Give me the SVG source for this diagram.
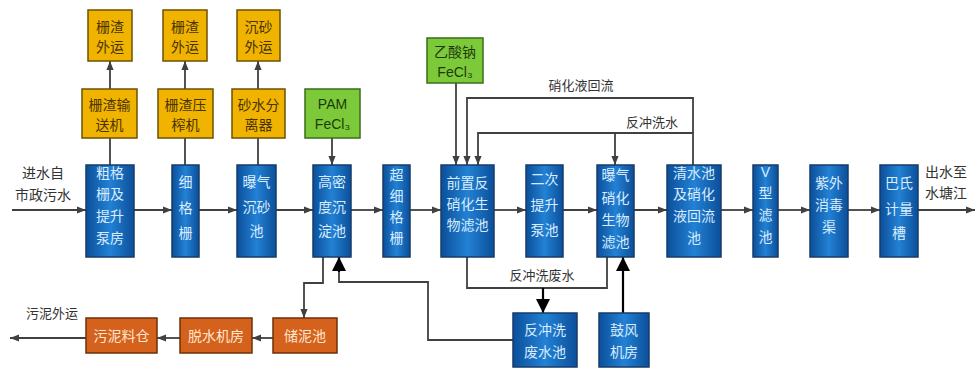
<svg xmlns="http://www.w3.org/2000/svg" width="977" height="372" viewBox="0 0 977 372">
<defs>
<linearGradient id="gb" x1="0" y1="0" x2="1" y2="0">
<stop offset="0" stop-color="#0b4f9a"/><stop offset="0.5" stop-color="#2381d4"/><stop offset="1" stop-color="#0b4f9a"/>
</linearGradient>
<marker id="a" viewBox="0 0 10 10" refX="10" refY="5" markerWidth="9" markerHeight="9" markerUnits="userSpaceOnUse" orient="auto">
<path d="M0,1 L10,5 L0,9 z" fill="#404040"/>
</marker>
<marker id="b" viewBox="0 0 10 10" refX="10" refY="5" markerWidth="14" markerHeight="14" markerUnits="userSpaceOnUse" orient="auto">
<path d="M0,0 L10,5 L0,10 z" fill="#000"/>
</marker>
<style>
.blue rect{fill:url(#gb);stroke:#163d6b;stroke-width:1.5}
.blue text{fill:#d8ecff}
.yel rect{fill:#f0b400;stroke:#6e5200;stroke-width:1.5}
.yel text{fill:#4a3300}
.grn rect{fill:#7cca3a;stroke:#3a6e18;stroke-width:1.5}
.grn text{fill:#1c3a0a}
.org rect{fill:#d4621c;stroke:#6e3008;stroke-width:1.5}
.org text{fill:#ffe6d0}
text{font-family:"Noto Sans CJK SC","Noto Sans",sans-serif;font-size:14px;text-anchor:middle}
.lbl{fill:#333;font-size:13px}
.ln{fill:none;stroke:#404040;stroke-width:1.8}
.lnb{fill:none;stroke:#000;stroke-width:2.2}
</style>
</defs>
<rect width="977" height="372" fill="#fff"/>

<g id="connectors">
<path class="ln" d="M12,210 H86" marker-end="url(#a)"/>
<path class="ln" d="M134,210 H172" marker-end="url(#a)"/>
<path class="ln" d="M199,210 H237" marker-end="url(#a)"/>
<path class="ln" d="M276,210 H313" marker-end="url(#a)"/>
<path class="ln" d="M351,210 H383" marker-end="url(#a)"/>
<path class="ln" d="M410,210 H441" marker-end="url(#a)"/>
<path class="ln" d="M494,210 H526" marker-end="url(#a)"/>
<path class="ln" d="M563,210 H597" marker-end="url(#a)"/>
<path class="ln" d="M634,210 H667" marker-end="url(#a)"/>
<path class="ln" d="M721,210 H753" marker-end="url(#a)"/>
<path class="ln" d="M778,210 H810" marker-end="url(#a)"/>
<path class="ln" d="M848,210 H880" marker-end="url(#a)"/>
<path class="ln" d="M918,210 H975" marker-end="url(#a)"/>
<path class="ln" d="M110,165 V138"/>
<path class="ln" d="M110,89 V61" marker-end="url(#a)"/>
<path class="ln" d="M185,165 V138"/>
<path class="ln" d="M185,89 V61" marker-end="url(#a)"/>
<path class="ln" d="M258,165 V138"/>
<path class="ln" d="M258,89 V61" marker-end="url(#a)"/>
<path class="ln" d="M332,138 V165" marker-end="url(#a)"/>
<path class="ln" d="M456,83 V165" marker-end="url(#a)"/>
<path class="ln" d="M693,165 V98 H467 V165" marker-end="url(#a)"/>
<path class="ln" d="M693,133 H478 V165" marker-end="url(#a)"/>
<path class="ln" d="M615,133 V165" marker-end="url(#a)"/>
<path class="ln" d="M323,257 V283 H304 V318" marker-end="url(#a)"/>
<path class="ln" d="M273,338 H252" marker-end="url(#a)"/>
<path class="ln" d="M180,338 H157" marker-end="url(#a)"/>
<path class="ln" d="M86,338 H10" marker-end="url(#a)"/>
<path class="ln" d="M467,257 V288 H607 V257"/>
<path class="lnb" d="M543,288 V313" marker-end="url(#b)"/>
<path class="ln" d="M513,340 H428 V282 H339 V270"/>
<path class="lnb" d="M339,272 V257" marker-end="url(#b)"/>
<path class="lnb" d="M623,313 V257" marker-end="url(#b)"/>
</g>

<g id="labels">
<text class="lbl" x="43" y="178" style="font-size:14px">进水自</text>
<text class="lbl" x="43" y="200" style="font-size:14px">市政污水</text>
<text class="lbl" x="946" y="177" style="font-size:14px">出水至</text>
<text class="lbl" x="946" y="198" style="font-size:14px">水塘江</text>
<text class="lbl" x="52" y="318">污泥外运</text>
<text class="lbl" x="581" y="90">硝化液回流</text>
<text class="lbl" x="652" y="127">反冲洗水</text>
<text class="lbl" x="542" y="280">反冲洗废水</text>
</g>

<g id="n_zhazha1" class="yel"><rect x="88" y="10" width="44" height="51"/><text x="110" y="32">栅渣</text><text x="110" y="52">外运</text></g>
<g id="n_zhazha2" class="yel"><rect x="163" y="10" width="44" height="51"/><text x="185" y="32">栅渣</text><text x="185" y="52">外运</text></g>
<g id="n_chensha" class="yel"><rect x="237" y="10" width="43" height="51"/><text x="258.5" y="32">沉砂</text><text x="258.5" y="52">外运</text></g>
<g id="n_shusong" class="yel"><rect x="82" y="89" width="55" height="49"/><text x="109.5" y="110">栅渣输</text><text x="109.5" y="130">送机</text></g>
<g id="n_yazha" class="yel"><rect x="158" y="89" width="55" height="49"/><text x="185.5" y="110">栅渣压</text><text x="185.5" y="130">榨机</text></g>
<g id="n_shashui" class="yel"><rect x="232" y="89" width="53" height="49"/><text x="258.5" y="110">砂水分</text><text x="258.5" y="130">离器</text></g>
<g id="n_pam" class="grn"><rect x="305" y="89" width="55" height="49"/><text x="332.5" y="109" style="font-family:'Liberation Sans',sans-serif">PAM</text><text x="332.5" y="129" style="font-family:'Liberation Sans',sans-serif">FeCl₃</text></g>
<g id="n_yisuanna" class="grn"><rect x="427" y="38" width="56" height="45"/><text x="455" y="57">乙酸钠</text><text x="455" y="77" style="font-family:'Liberation Sans',sans-serif">FeCl₃</text></g>

<g id="n_cugeshan" class="blue"><rect x="86" y="165" width="48" height="92"/><text x="110" y="178">粗格</text><text x="110" y="199">栅及</text><text x="110" y="221">提升</text><text x="110" y="243">泵房</text></g>
<g id="n_xigeshan" class="blue"><rect x="172" y="165" width="27" height="92"/><text x="185.5" y="187">细</text><text x="185.5" y="213">格</text><text x="185.5" y="238">栅</text></g>
<g id="n_chenshachi" class="blue"><rect x="237" y="165" width="39" height="92"/><text x="256.5" y="187">曝气</text><text x="256.5" y="212">沉砂</text><text x="256.5" y="236">池</text></g>
<g id="n_gaomidu" class="blue"><rect x="313" y="165" width="38" height="92"/><text x="332" y="187">高密</text><text x="332" y="212">度沉</text><text x="332" y="236">淀池</text></g>
<g id="n_chaoxi" class="blue"><rect x="383" y="165" width="27" height="92"/><text x="396.5" y="180">超</text><text x="396.5" y="201">细</text><text x="396.5" y="222">格</text><text x="396.5" y="243">栅</text></g>
<g id="n_qianzhi" class="blue"><rect x="441" y="165" width="53" height="92"/><text x="467.5" y="188">前置反</text><text x="467.5" y="209">硝化生</text><text x="467.5" y="230">物滤池</text></g>
<g id="n_erci" class="blue"><rect x="526" y="165" width="37" height="92"/><text x="544.5" y="184">二次</text><text x="544.5" y="210">提升</text><text x="544.5" y="235">泵池</text></g>
<g id="n_baoqi" class="blue"><rect x="597" y="165" width="37" height="92"/><text x="615.5" y="180">曝气</text><text x="615.5" y="203">硝化</text><text x="615.5" y="225">生物</text><text x="615.5" y="247">滤池</text></g>
<g id="n_qingshui" class="blue"><rect x="667" y="165" width="54" height="92"/><text x="694" y="178">清水池</text><text x="694" y="199">及硝化</text><text x="694" y="221">液回流</text><text x="694" y="243">池</text></g>
<g id="n_vxing" class="blue"><rect x="753" y="165" width="25" height="92"/><text x="765.5" y="177" style="font-family:'Liberation Sans',sans-serif">V</text><text x="765.5" y="198">型</text><text x="765.5" y="220">滤</text><text x="765.5" y="242">池</text></g>
<g id="n_ziwai" class="blue"><rect x="810" y="165" width="38" height="92"/><text x="829" y="188">紫外</text><text x="829" y="210">消毒</text><text x="829" y="232">渠</text></g>
<g id="n_bashi" class="blue"><rect x="880" y="165" width="38" height="92"/><text x="899" y="188">巴氏</text><text x="899" y="214">计量</text><text x="899" y="238">槽</text></g>

<g id="n_fanchongxi" class="blue"><rect x="513" y="313" width="64" height="54"/><text x="545" y="335">反冲洗</text><text x="545" y="357">废水池</text></g>
<g id="n_gufeng" class="blue"><rect x="599" y="313" width="50" height="54"/><text x="624" y="335">鼓风</text><text x="624" y="357">机房</text></g>

<g id="n_chuni" class="org"><rect x="273" y="318" width="64" height="35"/><text x="305" y="341">储泥池</text></g>
<g id="n_tuoshui" class="org"><rect x="180" y="318" width="72" height="35"/><text x="216" y="341">脱水机房</text></g>
<g id="n_liaocang" class="org"><rect x="86" y="318" width="71" height="35"/><text x="121.5" y="341">污泥料仓</text></g>
</svg>
